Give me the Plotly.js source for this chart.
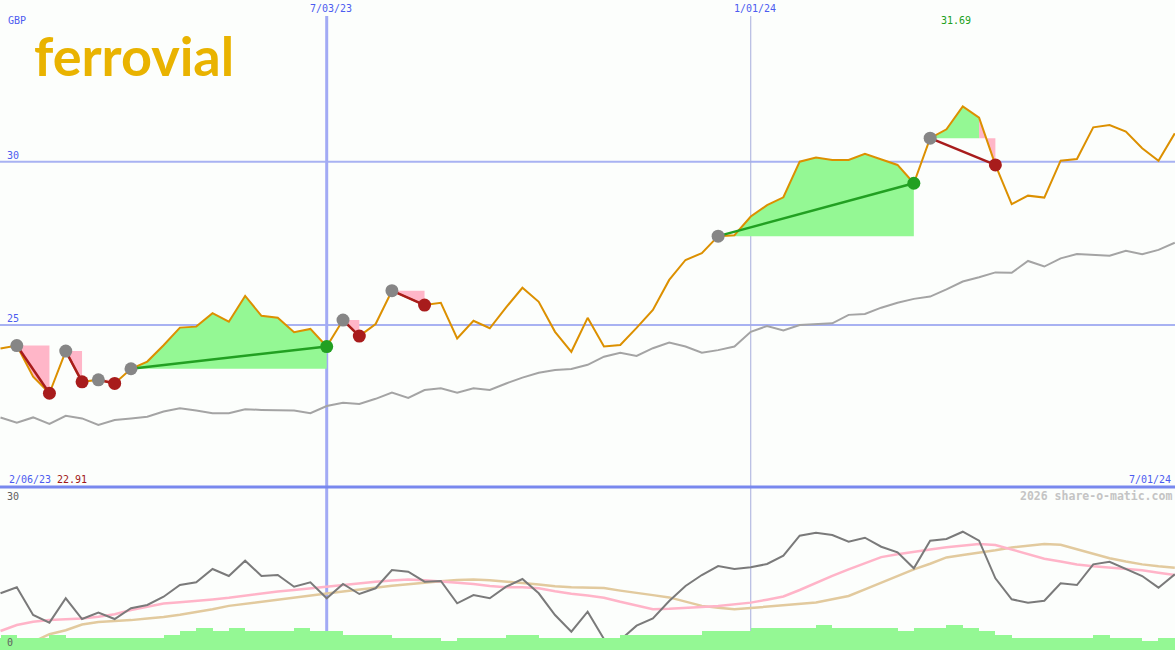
<!DOCTYPE html>
<html>
<head>
<meta charset="utf-8">
<script src="https://cdn.plot.ly/plotly-3.0.1.min.js"></script>
<style>
  html, body { margin: 0; padding: 0; background: #fcfefc; }
  #chart { width: 1175px; height: 650px; }
</style>
</head>
<body>
<div id="chart"></div>
<script>
// ---- Data (weekly, Mondays) ----
const dates = [
  "2023-02-13","2023-02-20","2023-02-27","2023-03-06","2023-03-13","2023-03-20","2023-03-27",
  "2023-04-03","2023-04-10","2023-04-17","2023-04-24","2023-05-01","2023-05-08","2023-05-15",
  "2023-05-22","2023-05-29","2023-06-05","2023-06-12","2023-06-19","2023-06-26","2023-07-03",
  "2023-07-10","2023-07-17","2023-07-24","2023-07-31","2023-08-07","2023-08-14","2023-08-21",
  "2023-08-28","2023-09-04","2023-09-11","2023-09-18","2023-09-25","2023-10-02","2023-10-09",
  "2023-10-16","2023-10-23","2023-10-30","2023-11-06","2023-11-13","2023-11-20","2023-11-27",
  "2023-12-04","2023-12-11","2023-12-18","2023-12-25","2024-01-01","2024-01-08","2024-01-15",
  "2024-01-22","2024-01-29","2024-02-05","2024-02-12","2024-02-19","2024-02-26","2024-03-04",
  "2024-03-11","2024-03-18","2024-03-25","2024-04-01","2024-04-08","2024-04-15","2024-04-22",
  "2024-04-29","2024-05-06","2024-05-13","2024-05-20","2024-05-27","2024-06-03","2024-06-10",
  "2024-06-17","2024-06-24","2024-07-01"
];

// Share price (GBP)
const price = [
  24.28,24.37,23.42,22.91,24.20,23.26,23.32,23.21,23.66,23.88,
  24.38,24.92,24.95,25.36,25.10,25.89,25.28,25.22,24.78,24.88,
  24.34,25.15,24.66,25.03,26.05,25.83,25.61,25.68,24.59,25.13,
  24.90,25.54,26.14,25.71,24.79,24.18,25.22,24.34,24.39,24.91,
  25.46,26.38,26.99,27.20,27.72,27.75,28.32,28.67,28.91,30.00,
  30.13,30.05,30.05,30.24,30.07,29.90,29.34,30.72,30.99,31.69,
  31.35,29.90,28.70,28.96,28.90,30.03,30.08,31.05,31.12,30.92,
  30.41,30.03,30.87
];

// Moving average (grey line)
const movingAvg = [
  22.17,22.01,22.17,21.97,22.22,22.14,21.94,22.09,22.14,22.19,
  22.35,22.45,22.38,22.30,22.30,22.42,22.40,22.38,22.38,22.30,
  22.52,22.62,22.58,22.74,22.93,22.77,23.01,23.06,22.93,23.06,
  23.01,23.21,23.39,23.54,23.62,23.65,23.78,24.03,24.15,24.05,
  24.29,24.46,24.34,24.15,24.23,24.34,24.79,24.97,24.83,25.00,
  25.02,25.05,25.31,25.34,25.53,25.68,25.80,25.87,26.09,26.33,
  26.46,26.61,26.60,26.96,26.79,27.04,27.17,27.14,27.12,27.27,
  27.17,27.30,27.52
];

// Lower panel oscillator (0..30)
const oscillator = [
  10.44,11.54,6.44,5.03,9.52,5.70,6.87,5.70,7.68,8.28,
  9.81,11.96,12.46,14.91,13.62,16.44,13.62,13.80,11.65,12.46,
  9.52,12.15,10.31,11.36,14.72,14.41,12.57,12.70,8.60,10.12,
  9.52,11.65,13.07,10.44,6.44,3.37,7.05,2.02,1.84,4.47,
  5.83,9.02,11.78,13.80,15.46,14.91,15.22,15.83,17.36,21.04,
  21.59,21.17,19.93,20.67,19.01,17.98,15.04,20.12,20.43,21.77,
  20.12,13.20,9.33,8.71,9.07,12.28,11.96,15.77,16.25,14.91,
  13.62,11.47,13.93
];
const oscFast = [
  3.50,4.60,5.21,5.52,5.67,5.82,6.11,6.59,7.36,7.95,
  8.54,8.80,9.02,9.31,9.61,10.01,10.42,10.75,11.06,11.37,
  11.71,12.02,12.33,12.57,12.79,12.96,12.83,12.64,12.41,12.15,
  11.78,11.54,11.54,11.36,10.80,10.34,10.03,9.63,8.87,8.15,
  7.51,7.58,7.71,7.91,8.12,8.43,8.72,9.26,9.85,11.04,
  12.42,13.66,14.85,16.01,17.10,17.61,18.11,18.48,18.90,19.20,
  19.51,19.33,18.50,17.63,16.80,16.27,15.74,15.41,15.20,14.95,
  14.67,14.23,13.80
];
const oscSlow = [
  -0.30,0.55,1.51,2.91,3.64,4.69,5.17,5.36,5.50,5.78,
  6.07,6.50,6.96,7.51,8.12,8.52,8.91,9.31,9.66,10.05,
  10.40,10.77,11.15,11.52,11.82,12.11,12.42,12.66,12.88,12.96,
  12.83,12.63,12.35,12.06,11.72,11.54,11.54,11.41,10.93,10.45,
  10.10,9.68,8.87,8.12,7.79,7.51,7.73,7.97,8.28,8.52,
  8.74,9.33,9.94,11.17,12.37,13.60,14.85,15.88,17.04,17.47,
  17.89,18.35,18.87,19.16,19.49,19.36,18.57,17.72,16.88,16.27,
  15.76,15.41,15.15
];

// Weekly volume (millions)
const volume = [
  1.17,1.5,1.17,1.17,1.5,1.17,1.17,1.17,1.17,1.17,
  1.17,1.5,1.9,2.2,1.9,2.2,1.9,1.9,1.9,2.2,
  1.9,1.9,1.5,1.5,1.5,1.17,1.17,1.17,0.9,1.17,
  1.17,1.17,1.5,1.5,1.17,1.17,1.17,1.17,1.17,1.5,
  1.5,1.5,1.5,1.5,1.9,1.9,1.9,2.2,2.2,2.2,
  2.2,2.5,2.2,2.2,2.2,2.2,1.9,2.2,2.2,2.5,
  2.2,1.9,1.5,1.17,1.17,1.17,1.17,1.17,1.5,1.17,
  1.17,0.9,1.17
];

// Trades: index of entry and exit week
const tradeStart = [1, 4, 6, 8, 21, 24, 44, 57];
const tradeEnd   = [3, 5, 7, 20, 22, 26, 56, 61];

// Labels
const currencyLabel = "GBP";
const markerDates = ["2023-07-03", "2024-01-01"];
const markerLabels = ["7/03/23", "1/01/24"];
const startLabel = "2/06/23";
const endLabel = "7/01/24";
const priceLevels = [30, 25];
const lowerLabels = ["30", "0"];
const companyName = "ferrovial";
const credit = "2026 share-o-matic.com";

// ---- Build traces ----
const W = 1175, H = 650;
const lowerFrac = 163 / 650;
const GREEN_FILL = '#94f894', PINK_FILL = '#ffb6c8';

const gx = [], gy = [], px = [], py = [];
const cgx = [], cgy = [], crx = [], cry = [];
const endColors = [];
for (let t = 0; t < tradeStart.length; t++) {
  const s = tradeStart[t], e = tradeEnd[t], base = price[s];
  for (let k = s; k < e; k++) {
    const up = price[k + 1] >= base;
    const ax = up ? gx : px, ay = up ? gy : py;
    ax.push(dates[k], dates[k], dates[k + 1], dates[k + 1], null);
    ay.push(base, price[k], price[k + 1], base, null);
  }
  const win = price[e] > price[s];
  (win ? cgx : crx).push(dates[s], dates[e], null);
  (win ? cgy : cry).push(price[s], price[e], null);
  endColors.push(win ? '#22a022' : '#a81c1c');
}

const traces = [
  { type: 'bar', x: dates, y: volume, yaxis: 'y3', xaxis: 'x',
    width: 7 * 86400000, offset: -7 * 86400000,
    marker: { color: GREEN_FILL, line: { width: 0 } }, hoverinfo: 'skip' },
  { type: 'scatter', mode: 'lines', x: dates, y: oscSlow, yaxis: 'y2',
    line: { color: '#e2ca9e', width: 2.5 }, hoverinfo: 'skip' },
  { type: 'scatter', mode: 'lines', x: dates, y: oscFast, yaxis: 'y2',
    line: { color: '#ffb4c8', width: 2.5 }, hoverinfo: 'skip' },
  { type: 'scatter', mode: 'lines', x: dates, y: oscillator, yaxis: 'y2',
    line: { color: '#7a7a7a', width: 2 }, hoverinfo: 'skip' },
  { type: 'scatter', mode: 'lines', x: gx, y: gy, fill: 'toself', fillcolor: GREEN_FILL,
    line: { width: 0, color: 'rgba(0,0,0,0)' }, hoverinfo: 'skip' },
  { type: 'scatter', mode: 'lines', x: px, y: py, fill: 'toself', fillcolor: PINK_FILL,
    line: { width: 0, color: 'rgba(0,0,0,0)' }, hoverinfo: 'skip' },
  { type: 'scatter', mode: 'lines', x: dates, y: movingAvg,
    line: { color: '#a4a4a4', width: 2 }, hoverinfo: 'skip' },
  { type: 'scatter', mode: 'lines', x: dates, y: price,
    line: { color: '#dc9000', width: 2 } },
  { type: 'scatter', mode: 'lines', x: cgx, y: cgy,
    line: { color: '#22a022', width: 2.5 }, hoverinfo: 'skip' },
  { type: 'scatter', mode: 'lines', x: crx, y: cry,
    line: { color: '#a81c1c', width: 2.5 }, hoverinfo: 'skip' },
  { type: 'scatter', mode: 'markers',
    x: tradeStart.map(i => dates[i]), y: tradeStart.map(i => price[i]),
    marker: { color: '#868686', size: 13 } },
  { type: 'scatter', mode: 'markers',
    x: tradeEnd.map(i => dates[i]), y: tradeEnd.map(i => price[i]),
    marker: { color: endColors, size: 13 } }
];

// ---- Layout ----
const mono = 'DejaVu Sans Mono';
const BLUE_TXT = '#4c5cf0';
const py2paper = p => 1 - p / H;
const px2paper = p => p / W;

let maxIdx = 0, minIdx = 0;
price.forEach((v, i) => { if (v > price[maxIdx]) maxIdx = i; if (v < price[minIdx]) minIdx = i; });

const annotations = [
  { text: currencyLabel, xref: 'paper', yref: 'paper', x: px2paper(6), y: py2paper(21),
    xanchor: 'left', yanchor: 'middle', showarrow: false, font: { family: mono, size: 10, color: BLUE_TXT } },
  { text: companyName, xref: 'paper', yref: 'paper', x: px2paper(32), y: py2paper(56),
    xanchor: 'left', yanchor: 'middle', showarrow: false,
    font: { family: 'Lato', size: 54, color: '#e9b300', weight: 700 } },
  { text: price[maxIdx].toFixed(2), xref: 'x', yref: 'paper', x: dates[maxIdx], xshift: -7, y: py2paper(21),
    xanchor: 'center', yanchor: 'middle', showarrow: false, font: { family: mono, size: 10, color: '#20a020' } },
  { text: startLabel, xref: 'paper', yref: 'paper', x: px2paper(7), y: py2paper(479),
    xanchor: 'left', yanchor: 'middle', showarrow: false, font: { family: mono, size: 10, color: BLUE_TXT } },
  { text: price[minIdx].toFixed(2), xref: 'paper', yref: 'paper', x: px2paper(55), y: py2paper(479),
    xanchor: 'left', yanchor: 'middle', showarrow: false, font: { family: mono, size: 10, color: '#a01818' } },
  { text: endLabel, xref: 'paper', yref: 'paper', x: px2paper(1173), y: py2paper(479),
    xanchor: 'right', yanchor: 'middle', showarrow: false, font: { family: mono, size: 10, color: BLUE_TXT } },
  { text: lowerLabels[0], xref: 'paper', yref: 'paper', x: px2paper(5), y: py2paper(496),
    xanchor: 'left', yanchor: 'middle', showarrow: false, font: { family: mono, size: 10, color: '#606060' } },
  { text: lowerLabels[1], xref: 'paper', yref: 'paper', x: px2paper(5), y: py2paper(642),
    xanchor: 'left', yanchor: 'middle', showarrow: false, font: { family: mono, size: 10, color: '#606060' } },
  { text: credit, xref: 'paper', yref: 'paper', x: px2paper(1174), y: py2paper(496),
    xanchor: 'right', yanchor: 'middle', showarrow: false,
    font: { family: mono, size: 11.5, color: '#c4c4c4', weight: 'bold' } }
];
markerDates.forEach((d, k) => {
  annotations.push({ text: markerLabels[k], xref: 'x', yref: 'paper', x: d, xshift: 4, y: py2paper(9),
    xanchor: 'center', yanchor: 'middle', showarrow: false, font: { family: mono, size: 10, color: BLUE_TXT } });
});
priceLevels.forEach(v => {
  annotations.push({ text: String(v), xref: 'paper', yref: 'y', x: px2paper(5), y: v, yshift: 6,
    xanchor: 'left', yanchor: 'middle', showarrow: false, font: { family: mono, size: 10, color: BLUE_TXT } });
});

const shapes = [];
priceLevels.forEach(v => {
  shapes.push({ type: 'line', xref: 'paper', yref: 'y', x0: 0, x1: 1, y0: v, y1: v,
    line: { color: '#a8b2f2', width: 2 }, layer: 'below' });
});
shapes.push({ type: 'line', xref: 'x', yref: 'paper', x0: markerDates[0], x1: markerDates[0],
  y0: 0, y1: py2paper(16), line: { color: '#a2aaf4', width: 3 }, layer: 'below' });
shapes.push({ type: 'line', xref: 'x', yref: 'paper', x0: markerDates[1], x1: markerDates[1],
  y0: 0, y1: py2paper(16), line: { color: '#a6acdc', width: 1 }, layer: 'below' });
shapes.push({ type: 'line', xref: 'paper', yref: 'paper', x0: 0, x1: 1, y0: lowerFrac, y1: lowerFrac,
  line: { color: '#7888ee', width: 3 }, layer: 'below' });

const hidden = { showgrid: false, zeroline: false, showticklabels: false, ticks: '', showline: false, fixedrange: true };

const layout = {
  width: W, height: H,
  margin: { l: 0, r: 0, t: 0, b: 0, pad: 0 },
  paper_bgcolor: '#fcfefc', plot_bgcolor: '#fcfefc',
  showlegend: false,
  hovermode: false,
  bargap: 0,
  xaxis: Object.assign({ type: 'date', range: ['2023-02-12 18:50', '2024-07-01 02:04'], anchor: 'y2' }, hidden),
  yaxis: Object.assign({ domain: [lowerFrac, 1], range: [20.04, 34.95] }, hidden),
  yaxis2: Object.assign({ domain: [0, lowerFrac], range: [0, 30] }, hidden),
  yaxis3: Object.assign({ overlaying: 'y2', range: [0, 16.3] }, hidden),
  shapes: shapes,
  annotations: annotations
};

Plotly.newPlot('chart', traces, layout, { displayModeBar: false, staticPlot: true });
</script>
</body>
</html>
